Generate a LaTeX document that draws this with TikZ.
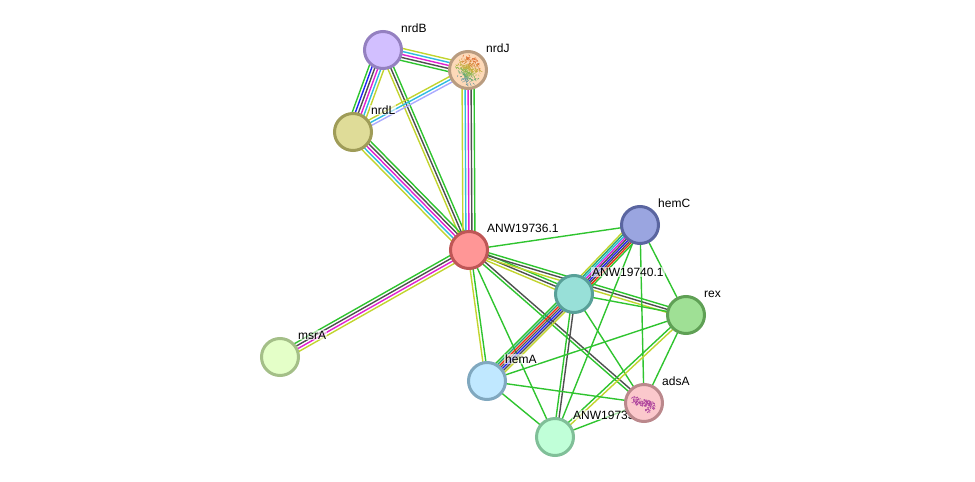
\documentclass[tikz,border=0pt]{standalone}
\usepackage{fontspec}
\setmainfont{Liberation Sans}
\usetikzlibrary{calc}
\pgfdeclarelayer{edges}
\pgfdeclarelayer{labels}
\pgfsetlayers{edges,labels,main}

\definecolor{lnGreen}{HTML}{2FC42F}
\definecolor{lnYellow}{HTML}{C2D42E}
\definecolor{lnDark}{HTML}{4F4F4F}
\definecolor{lnMagenta}{HTML}{E020D0}
\definecolor{lnCyan}{HTML}{2FBBE0}
\definecolor{lnBlue}{HTML}{2222F0}
\definecolor{lnRed}{HTML}{F03010}
\definecolor{lnLav}{HTML}{AAAAFF}
\definecolor{lnTeal}{HTML}{22A870}

% fill and ring colours of the proteins
\definecolor{fNrdB}{HTML}{D2BFFF}\definecolor{rNrdB}{HTML}{9480C0}
\definecolor{fNrdJ}{HTML}{FDD9B8}\definecolor{rNrdJ}{HTML}{B99C80}
\definecolor{fNrdL}{HTML}{DFDC98}\definecolor{rNrdL}{HTML}{9F9C58}
\definecolor{fA36}{HTML}{FF9696}\definecolor{rA36}{HTML}{BF5656}
\definecolor{fHemC}{HTML}{9AA5E0}\definecolor{rHemC}{HTML}{5A65A0}
\definecolor{fA40}{HTML}{98E0D8}\definecolor{rA40}{HTML}{58A098}
\definecolor{fRex}{HTML}{9FE095}\definecolor{rRex}{HTML}{5FA055}
\definecolor{fMsrA}{HTML}{E4FFC8}\definecolor{rMsrA}{HTML}{A4BF88}
\definecolor{fHemA}{HTML}{C0E8FF}\definecolor{rHemA}{HTML}{80A8BF}
\definecolor{fAdsA}{HTML}{FBC8CC}\definecolor{rAdsA}{HTML}{BB888C}
\definecolor{fA39}{HTML}{C0FFD8}\definecolor{rA39}{HTML}{80BF98}

\tikzset{
  protein/.style={circle,draw=r#1,fill=f#1,line width=3pt,minimum size=37pt,inner sep=0pt},
  namelabel/.style={anchor=base west,font=\fontsize{12}{14}\selectfont,text=black,
    fill=white,fill opacity=.6,text opacity=1,inner sep=1pt},
  strand/.style={line width=1.4pt}
}

\newcount\strandtotal
% \bundle[spacing]{from}{to}{colours}: parallel strands, first colour on the left of the heading
\newcommand{\bundle}[4][3]{%
  \begin{pgfonlayer}{edges}
    \global\strandtotal=0
    \foreach \c in {#4}{\global\advance\strandtotal by 1 }%
    \foreach \c [count=\i] in {#4}{%
      \pgfmathsetmacro\off{((\the\strandtotal+1)/2-\i)*#1}%
      \draw[strand,draw=\c] ($(#2)!\off pt!90:(#3)$) -- ($(#3)!\off pt!-90:(#2)$);
    }%
  \end{pgfonlayer}%
}

\begin{document}
\begin{tikzpicture}[x=1pt,y=-1pt]
\useasboundingbox (0,0) rectangle (975,482);

% proteins
\node[protein=NrdB] (nrdB) at (383,50) {};
\node[protein=NrdJ] (nrdJ) at (468,70) {};
\node[protein=NrdL] (nrdL) at (353,132) {};
\node[protein=A36] (a36) at (469,250) {};
\node[protein=HemC] (hemC) at (640,225) {};
\node[protein=A40] (a40) at (574,294) {};
\node[protein=Rex] (rex) at (686,315) {};
\node[protein=MsrA] (msrA) at (280,357) {};
\node[protein=HemA] (hemA) at (487,381) {};
\node[protein=AdsA] (adsA) at (644,403) {};
\node[protein=A39] (a39) at (555,437) {};

% names
\begin{pgfonlayer}{labels}
\node[namelabel] (lnrdB) at (400,32.3) {nrdB};
\node[namelabel] (lnrdJ) at (485,52.3) {nrdJ};
\node[namelabel] (lnrdL) at (370,114.3) {nrdL};
\node[namelabel] (la36) at (486,232.3) {ANW19736.1};
\node[namelabel] (lhemC) at (657,207.3) {hemC};
\node[namelabel] (la40) at (591,276.3) {ANW19740.1};
\node[namelabel] (lrex) at (703,297.3) {rex};
\node[namelabel] (lmsrA) at (297,339.3) {msrA};
\node[namelabel] (lhemA) at (504,363.3) {hemA};
\node[namelabel] (ladsA) at (661,385.3) {adsA};
\node[namelabel] (la39) at (572,419.3) {ANW19733.1};
\end{pgfonlayer}

% associations
\bundle{nrdB}{nrdJ}{lnYellow,lnCyan,lnMagenta,lnDark,lnGreen}
\bundle{nrdL}{nrdB}{lnGreen,lnBlue,lnDark,lnMagenta,lnCyan,lnYellow}
\bundle{nrdB}{a36}{lnGreen,lnDark,lnYellow}
\bundle{nrdL}{nrdJ}{lnYellow,lnCyan,lnLav}
\bundle{a36}{nrdJ}{lnYellow,lnCyan,lnMagenta,lnDark,lnGreen}
\bundle{nrdL}{a36}{lnGreen,lnDark,lnMagenta,lnCyan,lnYellow}
\bundle{a36}{hemC}{lnGreen}
\bundle{a36}{a40}{lnGreen,lnDark,lnYellow}
\bundle{a36}{rex}{lnGreen,lnDark,lnYellow}
\bundle{a36}{msrA}{lnYellow,lnMagenta,lnDark,lnGreen}
\bundle{a36}{hemA}{lnGreen,lnYellow}
\bundle{a36}{adsA}{lnDark,lnGreen}
\bundle{a36}{a39}{lnGreen}
\bundle[1.9]{a40}{hemC}{lnYellow,lnTeal,lnCyan,lnMagenta,lnDark,lnBlue,lnDark,lnRed,lnGreen}
\bundle[2.1]{hemA}{a40}{lnGreen,lnTeal,lnRed,lnDark,lnBlue,lnDark,lnYellow}
\bundle{hemC}{rex}{lnGreen}
\bundle{hemC}{adsA}{lnGreen}
\bundle{hemC}{a39}{lnGreen}
\bundle{a40}{rex}{lnGreen}
\bundle{a40}{adsA}{lnGreen}
\bundle{a40}{a39}{lnDark,lnGreen}
\bundle{rex}{hemA}{lnGreen}
\bundle{rex}{adsA}{lnGreen}
\bundle{a39}{rex}{lnGreen,lnYellow}
\bundle{hemA}{adsA}{lnGreen}
\bundle{hemA}{a39}{lnGreen}
\bundle{adsA}{a39}{lnGreen}

% ribbon model inside nrdJ
\pgfmathsetseed{11}
\begin{scope}[shift={(nrdJ)}]
  \foreach \k in {1,...,300}{
    \pgfmathsetmacro\ang{rnd*360}
    \pgfmathsetmacro\rad{2+rnd*10.5}
    \pgfmathsetmacro\px{\rad*cos(\ang)+.5}
    \pgfmathsetmacro\py{\rad*sin(\ang)*1.15}
    \pgfmathsetmacro\dx{(rnd-.5)*5}
    \pgfmathsetmacro\dy{(rnd-.5)*5}
    \pgfmathtruncatemacro\band{max(0,(\py-0.45*\px+15)/5)}
    \ifcase\band
      \def\tone{DC6A2C}\or\def\tone{D88A3A}\or\def\tone{C4B040}\or\def\tone{8CB850}\or\def\tone{62A870}\else\def\tone{6C98A0}\fi
    \definecolor{ribbontone}{HTML}{\tone}
    \draw[ribbontone,line width=.5pt] (\px,\py) -- ++(\dx,\dy);
  }
\end{scope}

% ribbon model inside adsA
\definecolor{adsTone}{HTML}{B0469E}
\pgfmathsetseed{5}
\begin{scope}[shift={(adsA)}]
  \foreach \k in {1,...,150}{
    \pgfmathsetmacro\tt{rnd*2-1}
    \pgfmathsetmacro\px{\tt*11+(rnd-.5)*3}
    \pgfmathsetmacro\py{\tt*3+(rnd-.5)*7}
    \pgfmathsetmacro\dx{(rnd-.5)*3.5}
    \pgfmathsetmacro\dy{(rnd-.5)*3.5}
    \draw[adsTone,line width=.65pt] (\px,\py) -- ++(\dx,\dy);
  }
  % short tail below the main lobe
  \foreach \k in {1,...,18}{
    \pgfmathsetmacro\px{4+(rnd-.5)*5}
    \pgfmathsetmacro\py{6+rnd*4}
    \pgfmathsetmacro\dx{(rnd-.5)*3}
    \pgfmathsetmacro\dy{(rnd-.5)*3}
    \draw[adsTone,line width=.65pt] (\px,\py) -- ++(\dx,\dy);
  }
\end{scope}
\end{tikzpicture}
\end{document}
